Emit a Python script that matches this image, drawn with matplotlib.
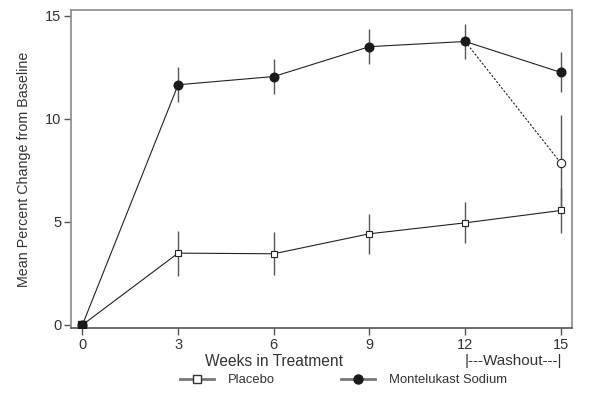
import matplotlib
matplotlib.use("Agg")
import matplotlib.pyplot as plt
import matplotlib.transforms as mtransforms
from matplotlib.lines import Line2D

plt.rcParams['font.family'] = ['Liberation Sans', 'DejaVu Sans']

# data
weeks = [0, 3, 6, 9, 12, 15]
montelukast = [0, 11.65, 12.05, 13.5, 13.75, 12.25]
montelukast_err = [0, 0.85, 0.87, 0.85, 0.87, 0.97]
placebo = [0, 3.48, 3.45, 4.42, 4.95, 5.55]
placebo_err = [0, 1.09, 1.05, 0.97, 1.0, 1.08]
washout_weeks = [12, 15]
washout = [13.75, 7.85]
washout_err = 2.35
xtick_labels = ['0', '3', '6', '9', '12', '15']
ytick_vals = [0, 5, 10, 15]

txt = '#333333'
fig = plt.figure(figsize=(5.94, 3.98), dpi=100)
ax = fig.add_axes([0.12, 0.176, 0.843, 0.799])

# error bars (no caps)
ax.errorbar(weeks[1:], montelukast[1:], yerr=montelukast_err[1:], fmt='none',
            ecolor='#555555', elinewidth=1.0, capsize=0, zorder=1)
ax.errorbar(weeks[1:], placebo[1:], yerr=placebo_err[1:], fmt='none',
            ecolor='#555555', elinewidth=1.0, capsize=0, zorder=1)
ax.errorbar(washout_weeks[1], washout[1], yerr=washout_err, fmt='none',
            ecolor='#555555', elinewidth=1.0, capsize=0, zorder=1)

# washout: dotted line from week 12 to the open circle at week 15
ax.plot(washout_weeks, washout, color='#222222', lw=0.8, ls=(0, (2, 1.5)), zorder=2)
ax.plot(washout_weeks[1], washout[1], 'o', ms=6, mfc='white', mec='#222222', mew=0.8, zorder=4)

ax.plot(weeks, placebo, color='#222222', lw=0.8, zorder=2)
ax.plot(weeks, placebo, 's', ms=5, mfc='white', mec='#222222', mew=0.8, zorder=4)
ax.plot(weeks, montelukast, color='#222222', lw=0.8, zorder=3)
ax.plot(weeks, montelukast, 'o', ms=6.2, mfc='#1a1a1a', mec='#1a1a1a', zorder=5)
ax.plot(0, 0, 's', ms=5.5, mfc='#1a1a1a', mec='#1a1a1a', zorder=6)

ax.set_xlim(-0.35, 15.35)
ax.set_ylim(-0.15, 15.28)
ax.set_xticks(weeks)
ax.set_xticklabels(xtick_labels)
ax.set_yticks(ytick_vals)
for s in ax.spines.values():
    s.set_color('#8a8a8a')
    s.set_linewidth(1.2)
ax.spines['bottom'].set_color('#555555')
ax.tick_params(axis='both', colors='#555555', labelcolor=txt, labelsize=10.5,
               length=5, width=1.0, direction='out', pad=2)

ax.set_ylabel('Mean Percent Change from Baseline', fontsize=10.3, color=txt, labelpad=10)
trans = mtransforms.blended_transform_factory(ax.transData, ax.transAxes)
ax.text(6.0, -0.104, 'Weeks in Treatment', transform=trans, fontsize=11.2,
        color=txt, ha='center', va='center')
ax.text(13.5, -0.104, '|---Washout---|', transform=trans, fontsize=11,
        color=txt, ha='center', va='center')

handles = [
    Line2D([], [], color='#777777', lw=2, marker='s', ms=5.5, mfc='white', mec='#333333'),
    Line2D([], [], color='#777777', lw=2, marker='o', ms=6.5, mfc='#1a1a1a', mec='#1a1a1a'),
]
fig.legend(handles, ['Placebo', 'Montelukast Sodium'], loc='center left',
           bbox_to_anchor=(180 / 594, 1 - 380 / 398), ncol=2, frameon=False, fontsize=9.4,
           handlelength=2.6, handletextpad=1.05, columnspacing=5.1, borderpad=0,
           borderaxespad=0, labelcolor=txt)

fig.savefig('out.png', dpi=100)
